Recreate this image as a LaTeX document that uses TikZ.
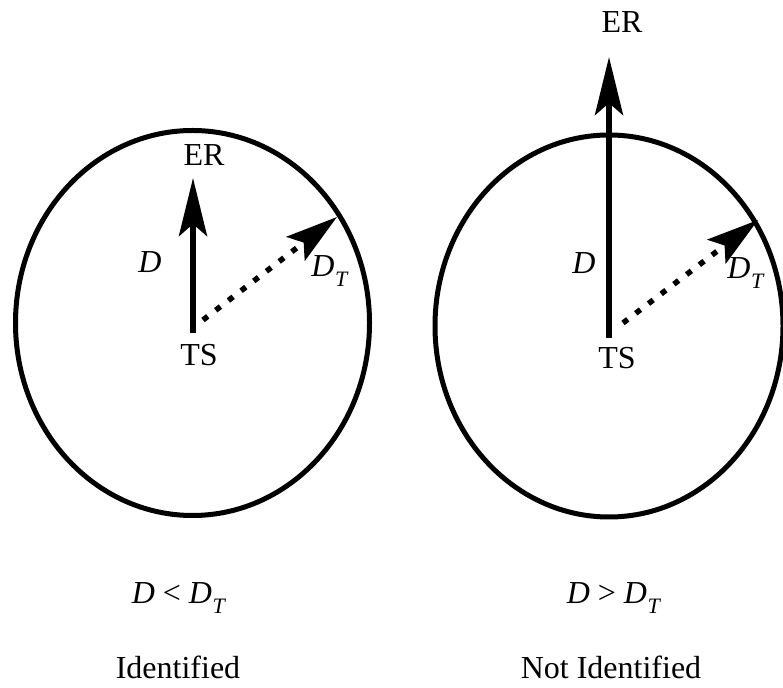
\documentclass[tikz,border=0pt]{standalone}
\usepackage{fontspec}
\setmainfont{Liberation Serif}
\usetikzlibrary{arrows.meta}
\newcommand\myDT{\textit{D}\kern0.02em\raisebox{-0.3em}{\fontsize{22}{22}\selectfont\textit{T}}}
\begin{document}
\begin{tikzpicture}[x=1pt,y=1pt,
  lbl/.style={inner sep=0pt,font=\fontsize{32}{32}\selectfont},
  ring/.style={draw=black,line width=5pt},
  darrow/.style={line width=6pt,-{Stealth[length=58pt,width=28pt,inset=12pt]}},
  rarrow/.style={line width=5.5pt,dash pattern=on 6pt off 10pt,-{Stealth[length=52pt,width=30pt,inset=10pt]}}]
\useasboundingbox (0,0) rectangle (783,687);
% left
\draw[ring] (192.5,364) ellipse [x radius=177, y radius=192.5];
\coordinate (s1) at (193,354);
\coordinate (e1) at (193,509);
\coordinate (d1) at (203,367);
\coordinate (t1) at (337,470);
\draw[darrow] (s1) -- (e1);
\draw[rarrow] (d1) -- (t1);
\node[lbl] (er1) at (204,532) {ER};
\node[lbl] (ts1) at (199,332) {TS};
\node[lbl] (D1) at (150,425) {\textit{D}};
\node[lbl] (DT1) at (330,416) {\myDT};
\node[lbl] (cond1) at (179,89) {\textit{D} < \myDT};
\node[lbl,anchor=base] (res1) at (178,9) {Identified};
% right
\draw[ring] (609,361) ellipse [x radius=174, y radius=191];
\coordinate (s2) at (609,349);
\coordinate (e2) at (609,630);
\coordinate (d2) at (623,364);
\coordinate (t2) at (758,467);
\draw[darrow] (s2) -- (e2);
\draw[rarrow] (d2) -- (t2);
\node[lbl] (er2) at (622,665) {ER};
\node[lbl] (ts2) at (617,329) {TS};
\node[lbl] (D2) at (584,424) {\textit{D}};
\node[lbl] (DT2) at (746,414) {\myDT};
\node[lbl] (cond2) at (614,89) {\textit{D} > \myDT};
\node[lbl,anchor=base] (res2) at (611,9) {Not Identified};
\end{tikzpicture}
\end{document}
